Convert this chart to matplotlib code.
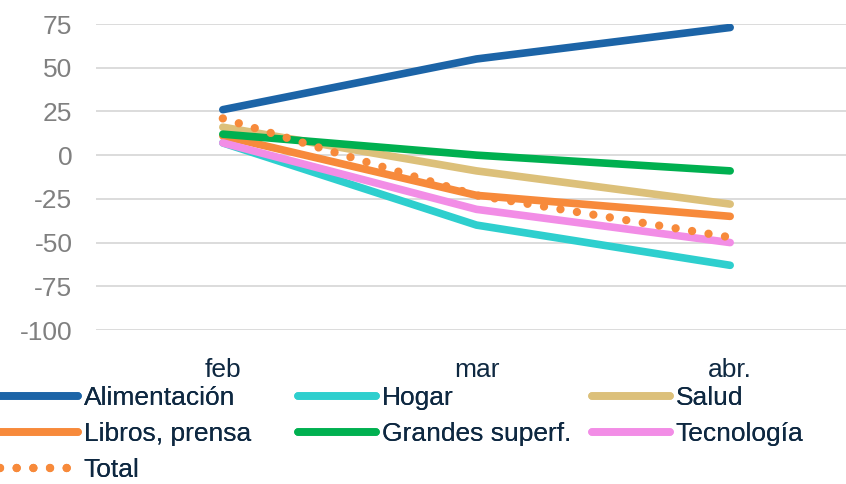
import matplotlib
matplotlib.use('Agg')
import matplotlib.pyplot as plt

plt.rcParams['font.family'] = ['Liberation Sans', 'DejaVu Sans']
plt.rcParams['axes.unicode_minus'] = False

# data
months = ['feb', 'mar', 'abr.']
alimentacion = [26, 55, 73]
hogar = [7, -40, -63]
salud = [16, -9, -28]
libros = [11, -23, -35]
grandes = [12, 0, -9]
tecnologia = [7, -31, -50]
total = [21, -23, -47]

navy = '#0E2841'
grey = '#808080'

fig = plt.figure(figsize=(8.46, 4.84), dpi=100)
ax = fig.add_axes([96/846, 1 - 330/484, 761/846, 306/484])

x = range(len(months))
lw = 5.5
l_al, = ax.plot(x, alimentacion, color='#1C64A7', lw=lw, solid_capstyle='round', label='Alimentación')
l_ho, = ax.plot(x, hogar, color='#2ECFCE', lw=lw, solid_capstyle='round', label='Hogar')
l_sa, = ax.plot(x, salud, color='#DCC07A', lw=lw, solid_capstyle='round', label='Salud')
l_li, = ax.plot(x, libros, color='#F78A3B', lw=lw, solid_capstyle='round', label='Libros, prensa')
l_gr, = ax.plot(x, grandes, color='#00B050', lw=lw, solid_capstyle='round', label='Grandes superf.')
l_te, = ax.plot(x, tecnologia, color='#F28DE6', lw=lw, solid_capstyle='round', label='Tecnología')
l_to, = ax.plot(x, total, color='#F78A3B', lw=6, linestyle=(0, (0.001, 2.0)),
                dash_capstyle='round', label='Total')

ax.set_xlim(-0.5, 2.5)
ax.set_ylim(-100, 75)
ax.set_yticks(range(-100, 76, 25))
ax.set_xticks(list(x))
ax.set_xticklabels(months)
ax.grid(axis='y', color='#D9D9D9', lw=1.3)
ax.set_axisbelow(True)
for s in ax.spines.values():
    s.set_visible(False)
ax.tick_params(axis='y', length=0, pad=17, labelsize=19, labelcolor=grey)
ax.tick_params(axis='x', length=0, pad=20, labelsize=19, labelcolor=navy)

# legend in three fixed columns like the original
cols = [([l_al, l_li, l_to], 0), ([l_ho, l_gr], 298), ([l_sa, l_te], 592)]
for handles, px in cols:
    leg = fig.legend(handles=handles, loc='upper left', bbox_to_anchor=(px/846, 1 - 386/484),
                     frameon=False, fontsize=19, handlelength=2.95, handletextpad=0.22,
                     labelspacing=0.45, borderpad=0, borderaxespad=0)
    for t in leg.get_texts():
        t.set_color(navy)
    fig.add_artist(leg)

fig.savefig('out.png', dpi=100)
